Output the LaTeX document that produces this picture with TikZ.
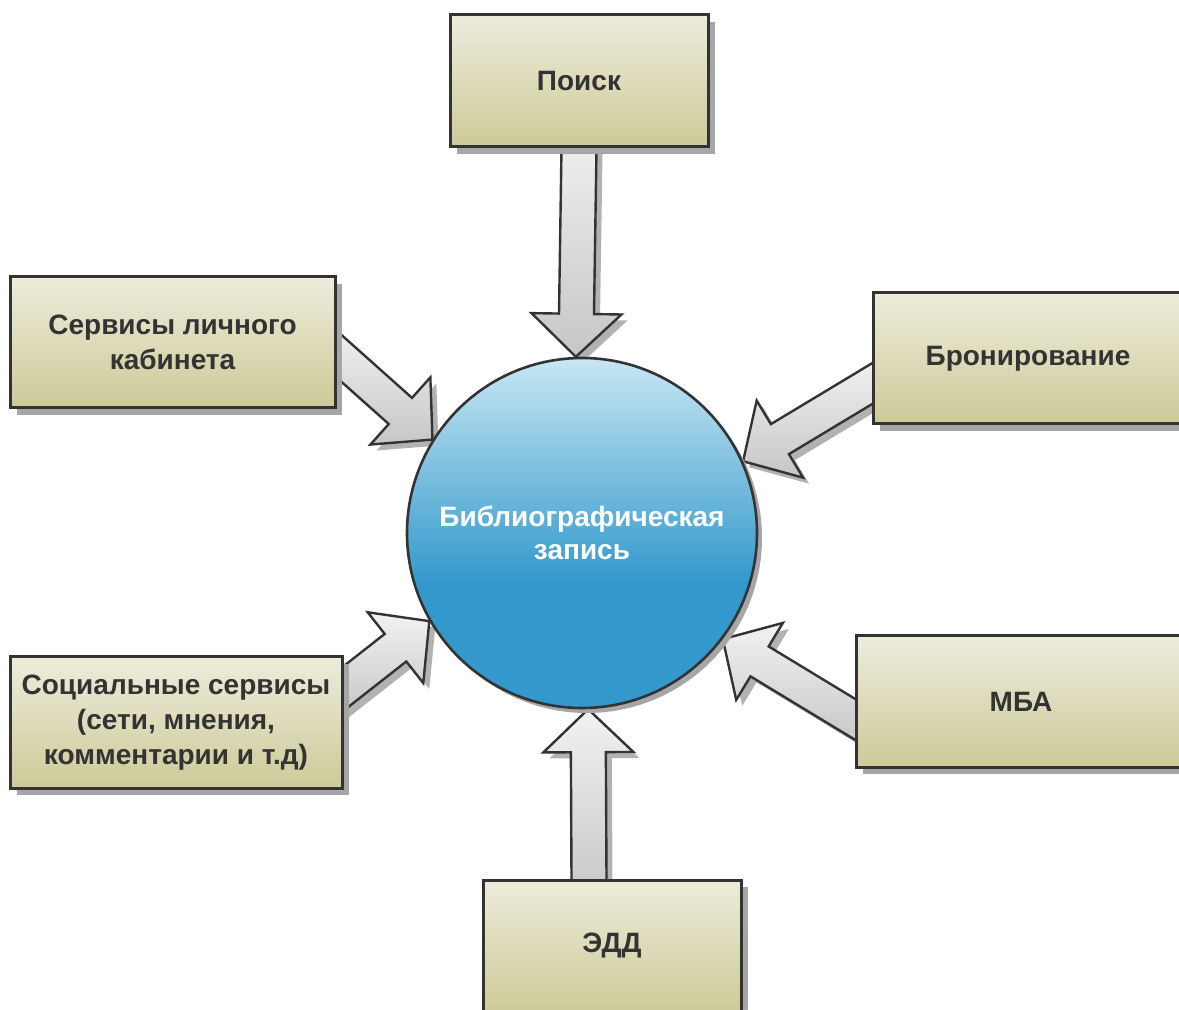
\documentclass[tikz,border=0pt]{standalone}
\usepackage{fontspec}
\setmainfont{Liberation Sans}
\usetikzlibrary{shapes,calc,shadows,backgrounds}

\definecolor{boxtop}{RGB}{237,236,219}
\definecolor{boxbot}{RGB}{205,202,152}
\definecolor{rectop}{RGB}{200,231,243}
\definecolor{recbot}{RGB}{51,153,204}
\definecolor{linegray}{RGB}{51,51,51}
\definecolor{arrtop}{RGB}{242,242,242}
\definecolor{arrbot}{RGB}{198,198,198}

\pgfdeclareverticalshading{recshade}{100bp}{color(0bp)=(recbot); color(25bp)=(recbot); color(43bp)=(recbot); color(75bp)=(rectop); color(100bp)=(rectop)}

% block arrow from a box border to the record circle
\newcommand{\blockarrow}[2]{%
  \coordinate (ba-s) at ($(#1)!-12pt!(#2)$);
  \coordinate (ba-t) at (#2);
  \coordinate (ba-b) at ($(ba-t)!21.5pt!(ba-s)$);
  \draw[blockarr] ($(ba-s)!8.75pt!90:(ba-t)$) -- ($(ba-b)!8.75pt!90:(ba-t)$)
    -- ($(ba-b)!22.5pt!90:(ba-t)$) -- (ba-t) -- ($(ba-b)!22.5pt!-90:(ba-t)$)
    -- ($(ba-b)!8.75pt!-90:(ba-t)$) -- ($(ba-s)!8.75pt!-90:(ba-t)$) -- cycle;
}

\begin{document}
\begin{tikzpicture}[
    x=0.5pt, y=-0.5pt,
    infobox/.style={rectangle, draw=linegray, line width=1.5pt, top color=boxtop, bottom color=boxbot,
      text=linegray, align=center, inner sep=0pt, font=\fontsize{14}{17.5}\selectfont\bfseries,
      drop shadow={shadow xshift=3.5pt, shadow yshift=-3.5pt, fill=black!35, opacity=1}},
    recnode/.style={circle, draw=linegray, line width=1.3pt, shade, shading=recshade, minimum size=175pt,
      inner sep=0pt, text=white, align=center, font=\fontsize{14}{16.5}\selectfont\bfseries,
      drop shadow={shadow xshift=2.5pt, shadow yshift=-2.5pt, fill=black!35, opacity=1}},
    blockarr/.style={draw=linegray, line width=1.2pt, line join=miter, top color=arrtop, bottom color=arrbot,
      drop shadow={shadow xshift=3pt, shadow yshift=-3pt, fill=black!30, opacity=1}}
  ]
  \useasboundingbox (0,0) rectangle (1179,1010);

  % central record
  \node[recnode] (rec) at (582,533) {Библиографическая\\запись};

  % surrounding services
  \node[infobox, minimum width=129pt, minimum height=66pt] (poisk) at (579,81) {Поиск};
  \node[infobox, minimum width=162.5pt, minimum height=65.5pt] (kab) at (172.5,342.5) {Сервисы личного\\кабинета};
  \node[infobox, minimum width=155pt, minimum height=65.5pt] (bron) at (1028,358.5) {Бронирование};
  \node[infobox, minimum width=166pt, minimum height=65.5pt] (soc) at (176,722.5) {Социальные сервисы\\(сети, мнения,\\комментарии и т.д)};
  \node[infobox, minimum width=165pt, minimum height=65.5pt] (mba) at (1021,701.5) {МБА};
  \node[infobox, minimum width=129pt, minimum height=66pt] (edd) at (612,946) {ЭДД};

  % arrows into the record
  \begin{scope}[on background layer]
    \blockarrow{poisk.south}{rec.92}
    \blockarrow{kab.-4}{rec.148}
    \blockarrow{[yshift=-12.75pt]bron.west}{rec.24}
    \blockarrow{[yshift=17pt]soc.east}{rec.210}
    \blockarrow{[yshift=-8.75pt]mba.west}{rec.-37}
    \blockarrow{[xshift=-11.5pt]edd.north}{rec.-88}
  \end{scope}
\end{tikzpicture}
\end{document}
